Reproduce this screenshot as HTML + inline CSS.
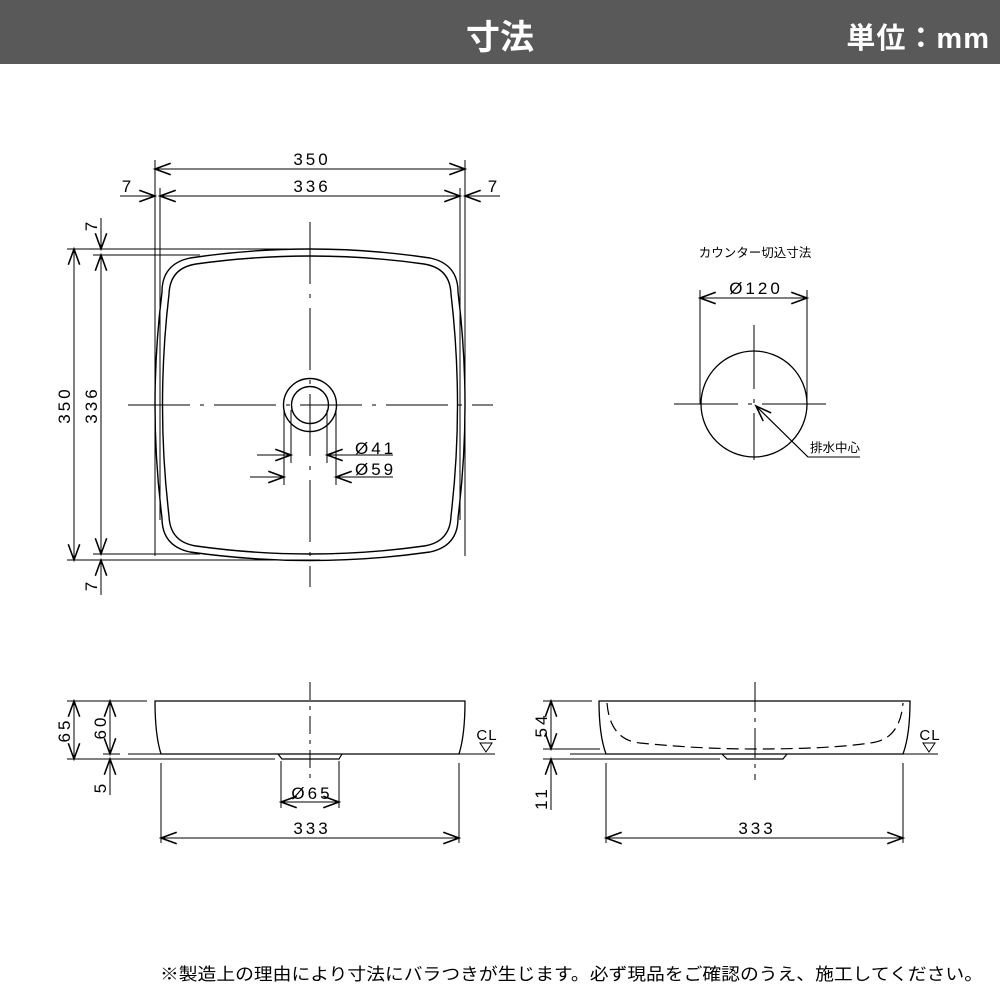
<!DOCTYPE html>
<html><head><meta charset="utf-8"><style>
body{margin:0;width:1000px;height:1000px;background:#fff;overflow:hidden;font-family:"Liberation Sans","Noto Sans CJK JP",sans-serif}
.hd{position:absolute;left:0;top:0;width:1000px;height:64px;background:#595959;color:#fff;font-weight:bold}
</style></head><body>
<div class="hd"><div style="position:absolute;left:0;width:1000px;top:10px;text-align:center;font-size:34px;">寸法</div><div style="position:absolute;right:10px;top:15px;font-size:29px;letter-spacing:1px;">単位：mm</div></div>
<svg width="1000" height="1000" style="position:absolute;left:0;top:0" font-family="Liberation Sans, Noto Sans CJK JP, sans-serif">
<defs><marker id="a" markerUnits="userSpaceOnUse" markerWidth="20" markerHeight="20" viewBox="-12 -6 14 12" refX="0" refY="0" orient="auto-start-reverse"><path d="M-11,-4 L0,0 L-11,4" fill="none" stroke="#000" stroke-width="1.1"/></marker></defs>
<g stroke="#000" stroke-width="1" fill="none">
<line x1="155" y1="160" x2="155" y2="556"/><line x1="465" y1="160" x2="465" y2="556"/>
<line x1="160" y1="188" x2="160" y2="520"/><line x1="460" y1="188" x2="460" y2="520"/>
<line x1="155" y1="169" x2="465" y2="169" marker-start="url(#a)" marker-end="url(#a)"/>
<line x1="160" y1="196" x2="460" y2="196" marker-start="url(#a)" marker-end="url(#a)"/>
<line x1="120" y1="196" x2="155" y2="196" marker-end="url(#a)"/>
<line x1="500" y1="196" x2="465" y2="196" marker-end="url(#a)"/>
<line x1="67" y1="249" x2="320" y2="249"/><line x1="93" y1="255" x2="200" y2="255"/>
<line x1="67" y1="560" x2="320" y2="560"/><line x1="93" y1="554" x2="200" y2="554"/>
<line x1="74" y1="249" x2="74" y2="560" marker-start="url(#a)" marker-end="url(#a)"/>
<line x1="101" y1="255" x2="101" y2="554" marker-start="url(#a)" marker-end="url(#a)"/>
<line x1="101" y1="218" x2="101" y2="249" marker-end="url(#a)"/>
<line x1="101" y1="595" x2="101" y2="560" marker-end="url(#a)"/>
<path stroke-width="1.4" d="M190,258 Q310,240 430,258 Q458,264 458,292 Q472,405 458,518 Q458,546 430,552 Q310,569 190,552 Q162,546 162,518 Q148,405 162,292 Q162,264 190,258 Z"/>
<path stroke-width="1.4" d="M196,264 Q310,248 424,264 Q450,268 451,294 Q464,405 451,516 Q450,542 424,546 Q310,562 196,546 Q170,542 169,516 Q156,405 169,294 Q170,268 196,264 Z"/>
<circle cx="310" cy="405" r="26.5" stroke-width="1.4"/><circle cx="310" cy="405" r="18.5" stroke-width="1.4"/>
<line x1="128" y1="405" x2="493" y2="405" stroke-dasharray="62,10,4,10"/>
<line x1="310" y1="222" x2="310" y2="587" stroke-dasharray="62,10,4,10"/>
<line x1="291" y1="410" x2="291" y2="463"/><line x1="327" y1="410" x2="327" y2="463"/>
<line x1="284" y1="410" x2="284" y2="485"/><line x1="336" y1="410" x2="336" y2="485"/>
<line x1="257" y1="455" x2="291" y2="455" marker-end="url(#a)"/><line x1="393" y1="455" x2="327" y2="455" marker-end="url(#a)"/>
<line x1="250" y1="477" x2="284" y2="477" marker-end="url(#a)"/><line x1="393" y1="477" x2="336" y2="477" marker-end="url(#a)"/>
<path stroke-width="1.3" d="M155,701 L465,701 Q465,735 459,754 L161,754 Q155,735 155,701 Z"/>
<path stroke-width="1.2" d="M278,754 L282,759 L339,759 L342,754"/>
<line x1="67" y1="701" x2="147" y2="701"/>
<line x1="67" y1="759" x2="275" y2="759"/>
<line x1="103" y1="754" x2="120" y2="754"/><line x1="128" y1="754" x2="495" y2="754"/>
<line x1="74" y1="701" x2="74" y2="759" marker-start="url(#a)" marker-end="url(#a)"/>
<line x1="110" y1="701" x2="110" y2="754" marker-start="url(#a)" marker-end="url(#a)"/>
<line x1="110" y1="795" x2="110" y2="759" marker-end="url(#a)"/>
<line x1="310" y1="682" x2="310" y2="780" stroke-dasharray="18,6,4,6"/>
<line x1="281" y1="761" x2="281" y2="808"/><line x1="339" y1="761" x2="339" y2="808"/>
<line x1="281" y1="802" x2="339" y2="802" marker-start="url(#a)" marker-end="url(#a)"/>
<line x1="161" y1="763" x2="161" y2="843"/><line x1="459" y1="763" x2="459" y2="843"/>
<line x1="161" y1="838" x2="459" y2="838" marker-start="url(#a)" marker-end="url(#a)"/>
<path d="M480,743 L492,743 L486,752 Z"/>
<path stroke-width="1.3" d="M599,701 L910,701 Q910,735 903,754 L606,754 Q599,735 599,701 Z"/>
<path stroke-width="1.2" stroke-dasharray="12,6" d="M607,703 Q610,740 640,743 Q700,749 755,749 Q830,749 870,743 Q900,740 903,703"/>
<path stroke-width="1.2" d="M722,754 L727,759 L783,759 L787,754"/>
<line x1="543" y1="701" x2="592" y2="701"/>
<line x1="543" y1="749" x2="600" y2="749"/>
<line x1="543" y1="759" x2="720" y2="759"/>
<line x1="570" y1="754" x2="938" y2="754"/>
<line x1="551" y1="701" x2="551" y2="749" marker-start="url(#a)" marker-end="url(#a)"/>
<line x1="551" y1="810" x2="551" y2="759" marker-end="url(#a)"/>
<line x1="755" y1="682" x2="755" y2="780" stroke-dasharray="30,6,4,6"/>
<line x1="606" y1="763" x2="606" y2="843"/><line x1="903" y1="763" x2="903" y2="843"/>
<line x1="606" y1="838" x2="903" y2="838" marker-start="url(#a)" marker-end="url(#a)"/>
<path d="M923,743 L935,743 L929,752 Z"/>
<circle cx="754" cy="404" r="53" stroke-width="1.3"/>
<line x1="700" y1="290" x2="700" y2="404"/><line x1="807" y1="290" x2="807" y2="404"/>
<line x1="700" y1="298" x2="807" y2="298" marker-start="url(#a)" marker-end="url(#a)"/>
<line x1="674" y1="404" x2="835" y2="404" stroke-dasharray="64,10,4,10"/>
<line x1="754" y1="325" x2="754" y2="460" stroke-dasharray="64,10,4,10"/>
<polyline points="860,457 808,457 756,406" />
<line x1="808" y1="457" x2="756" y2="406" marker-end="url(#a)"/>
</g>
<g fill="#000" font-size="17" text-anchor="middle" letter-spacing="3">
<text x="312" y="165">350</text><text x="312" y="192">336</text>
<text x="128" y="192">7</text><text x="494" y="192">7</text>
<text x="355" y="454" text-anchor="start">Ø41</text><text x="355" y="475" text-anchor="start">Ø59</text>
<text x="312" y="799">Ø65</text><text x="312" y="834">333</text><text x="757" y="834">333</text>
<text x="756" y="294">Ø120</text>
<text x="487" y="740" font-size="15" letter-spacing="1">CL</text><text x="930" y="740" font-size="15" letter-spacing="1">CL</text>
<text transform="translate(70,405) rotate(-90)">350</text>
<text transform="translate(97,405) rotate(-90)">336</text>
<text transform="translate(97,225) rotate(-90)">7</text>
<text transform="translate(97,585) rotate(-90)">7</text>
<text transform="translate(70,730) rotate(-90)">65</text>
<text transform="translate(106,727) rotate(-90)">60</text>
<text transform="translate(106,787) rotate(-90)">5</text>
<text transform="translate(547,725) rotate(-90)">54</text>
<text transform="translate(547,798) rotate(-90)">11</text>
<text x="755" y="257" font-size="12.5" letter-spacing="0">カウンター切込寸法</text>
<text x="835" y="452" font-size="12.5" letter-spacing="0">排水中心</text>
<text x="160" y="980" font-size="17" text-anchor="start" letter-spacing="0" textLength="823" lengthAdjust="spacingAndGlyphs">※製造上の理由により寸法にバラつきが生じます。必ず現品をご確認のうえ、施工してください。</text>
</g>
</svg>
</body></html>
